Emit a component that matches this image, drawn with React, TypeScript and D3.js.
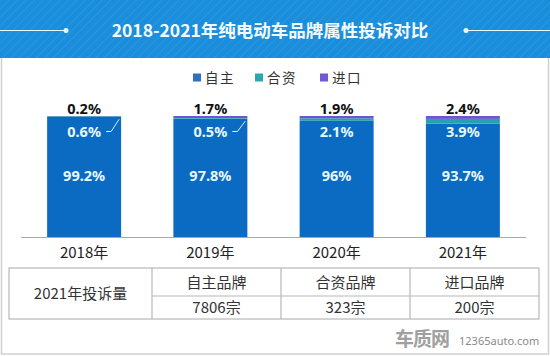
import React from "react";
import * as d3 from "d3";

const years = ["2018年", "2019年", "2020年", "2021年"];
const seriesNames = ["自主", "合资", "进口"];
const domestic = [99.2, 97.8, 96, 93.7];
const jointVenture = [0.6, 0.5, 2.1, 3.9];
const imported = [0.2, 1.7, 1.9, 2.4];
const domesticLabels = ["99.2%", "97.8%", "96%", "93.7%"];
const jvLabels = ["0.6%", "0.5%", "2.1%", "3.9%"];
const importLabels = ["0.2%", "1.7%", "1.9%", "2.4%"];
const tableHeader = ["2021年投诉量", "自主品牌", "合资品牌", "进口品牌"];
const tableValues = ["7806宗", "323宗", "200宗"];
const title = "2018-2021年纯电动车品牌属性投诉对比";

const colors = ["#0b6bc3", "#23a3ad", "#6b55d0"];
const legendColors = ["#2f6fc4", "#2aa8b2", "#7158d4"];

export default function App() {
  const W = 550, H = 356;
  const x = d3.scaleBand<string>().domain(years).range([21, 526]).paddingInner(0.414).paddingOuter(0.207);
  const y = d3.scaleLinear().domain([0, 100]).range([237, 116]);

  const rows = years.map((yr, i) => ({ yr, 自主: domestic[i], 合资: jointVenture[i], 进口: imported[i] }));
  const stack = d3.stack<any>().keys(seriesNames)(rows);

  const cjk = "'Noto Sans CJK SC', 'Noto Sans', sans-serif";
  const num = "'Noto Sans', 'Noto Sans CJK SC', sans-serif";

  const colX = [9, 152, 281, 410, 539];
  const tTop = 268, tMid = 296, tBot = 319;

  return (
    <svg width={W} height={H} style={{ position: "absolute", left: 0, top: 0 }}>
      <defs>
        <pattern id="stripes" width="6" height="6" patternUnits="userSpaceOnUse" patternTransform="rotate(45)">
          <rect width="6" height="6" fill="#1a8edb" />
          <line x1="0" y1="0" x2="0" y2="6" stroke="#2a97df" strokeWidth="2" />
        </pattern>
      </defs>
      <rect x={0} y={0} width={W} height={H} fill="#ffffff" />
      {/* frame */}
      <rect x={1.5} y={40} width={W - 3} height={H - 42} fill="none" stroke="#d0d0d0" strokeWidth={1.5} />
      {/* header */}
      <rect x={0} y={0} width={W} height={58} fill="url(#stripes)" />
      <line x1={0} y1={30.5} x2={65} y2={30.5} stroke="#e8f6ff" strokeWidth={1.2} />
      <circle cx={66} cy={30.5} r={2.5} fill="#e8f6ff" />
      <line x1={466} y1={30.5} x2={W} y2={30.5} stroke="#e8f6ff" strokeWidth={1.2} />
      <circle cx={466} cy={30.5} r={2.5} fill="#e8f6ff" />
      <text x={270} y={37} textAnchor="middle" fill="#f4fbff" fontSize={17.5} fontWeight="bold" fontFamily={cjk}>{title}</text>

      {/* legend */}
      {seriesNames.map((s, i) => {
        const lx = [193, 255, 320][i];
        return (
          <g key={s}>
            <rect x={lx} y={73.5} width={8} height={8} fill={legendColors[i]} />
            <text x={lx + 12} y={82.5} fontSize={13.5} fill="#333" fontFamily={cjk} letterSpacing={1.5}>{s}</text>
          </g>
        );
      })}

      {/* bars */}
      {stack.map((layer, si) => (
        <g key={si}>
          {layer.map((d, i) => (
            <rect key={i} x={x(years[i])} y={y(d[1])} width={x.bandwidth()} height={Math.max(0, y(d[0]) - y(d[1]))} fill={colors[si]} />
          ))}
        </g>
      ))}

      {/* axis */}
      <line x1={21} y1={237.5} x2={526} y2={237.5} stroke="#a8a8a8" strokeWidth={1.2} />
      {years.map((yr) => (
        <text key={yr} x={x(yr)! + x.bandwidth() / 2} y={258} textAnchor="middle" fontSize={15} fill="#222" fontFamily={cjk}>{yr}</text>
      ))}

      {/* labels */}
      {years.map((yr, i) => {
        const cx = x(yr)! + x.bandwidth() / 2;
        const right = x(yr)! + x.bandwidth();
        const jvTop = y(domestic[i] + jointVenture[i]);
        const showLeader = jointVenture[i] < 1;
        return (
          <g key={yr} fontFamily={num} fontWeight="bold" fontSize={14.5} textAnchor="middle">
            <text x={cx} y={114} fill="#111">{importLabels[i]}</text>
            <text x={cx} y={137} fill="#e6f8ff">{jvLabels[i]}</text>
            <text x={cx} y={181} fill="#e6f8ff">{domesticLabels[i]}</text>
            {showLeader && (
              <polyline points={`${cx + 22},${131.5} ${cx + 27},${131.5} ${right - 2},${jvTop + 3}`} fill="none" stroke="#d8f2ff" strokeWidth={1} />
            )}
          </g>
        );
      })}

      {/* table */}
      <g stroke="#b8b8b8" strokeWidth={1.2} fill="none">
        <rect x={colX[0]} y={tTop} width={colX[4] - colX[0]} height={tBot - tTop} />
        <line x1={colX[1]} y1={tTop} x2={colX[1]} y2={tBot} />
        <line x1={colX[2]} y1={tTop} x2={colX[2]} y2={tBot} />
        <line x1={colX[3]} y1={tTop} x2={colX[3]} y2={tBot} />
        <line x1={colX[1]} y1={tMid} x2={colX[4]} y2={tMid} />
      </g>
      <g fontFamily={cjk} fontSize={15} fill="#333" textAnchor="middle">
        <text x={(colX[0] + colX[1]) / 2} y={(tTop + tBot) / 2 + 5.5}>{tableHeader[0]}</text>
        {[1, 2, 3].map((c) => (
          <g key={c}>
            <text x={(colX[c] + colX[c + 1]) / 2} y={(tTop + tMid) / 2 + 5.5}>{tableHeader[c]}</text>
            <text x={(colX[c] + colX[c + 1]) / 2} y={(tMid + tBot) / 2 + 5.5}>{tableValues[c - 1]}</text>
          </g>
        ))}
      </g>

      {/* watermark */}
      <text x={395} y={346} fontFamily={cjk} fontSize={19} fontWeight="bold" fill="#a0a0a0" letterSpacing={-1}>车质网</text>
      <text x={459} y={345} fontFamily={num} fontSize={11} fill="#8a8a8a">12365auto.com</text>
    </svg>
  );
}
